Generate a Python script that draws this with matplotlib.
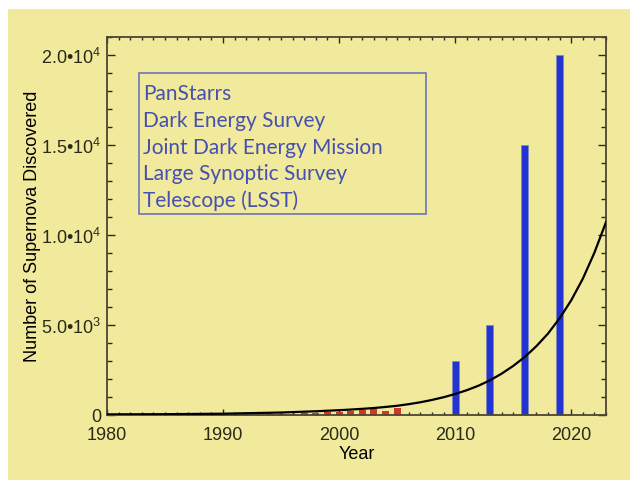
import numpy as np
import matplotlib
matplotlib.use('Agg')
import matplotlib.pyplot as plt
from matplotlib.patches import Rectangle
from matplotlib.ticker import MultipleLocator, FuncFormatter

plt.rcParams['font.family'] = ['Liberation Sans', 'DejaVu Sans']
plt.rcParams['mathtext.fontset'] = 'custom'
plt.rcParams['mathtext.rm'] = 'Liberation Sans'

# data
past_years = [1994, 1995, 1996, 1997, 1998, 1999, 2000, 2001, 2002, 2003, 2004, 2005]
past_counts = [20, 40, 50, 70, 90, 130, 160, 210, 260, 300, 210, 360]

future_years = [2010, 2013, 2016, 2019]
future_counts = [3000, 5000, 15000, 20000]

trend_years = [1980, 1985, 1990, 1995, 1998, 2000, 2001, 2002, 2003, 2004, 2005, 2006,
               2007, 2008, 2009, 2010, 2011, 2012, 2013, 2014, 2015, 2016, 2017, 2018,
               2019, 2020, 2021, 2022, 2023]
trend_counts = [7, 18, 45, 110, 180, 240, 275, 315, 360, 420, 485, 575,
                680, 810, 960, 1140, 1350, 1600, 1900, 2270, 2700, 3200, 3800, 4500,
                5350, 6350, 7550, 9000, 10700]

surveys = ['PanStarrs', 'Dark Energy Survey', 'Joint Dark Energy Mission',
           'Large Synoptic Survey', 'Telescope (LSST)']

yellow = '#F1E99B'
W, H = 630, 481

fig = plt.figure(figsize=(6.3, 4.81), dpi=100, facecolor='white')
# yellow backdrop panel
fig.patches.append(Rectangle((8 / W, 0), 1 - 8 / W, 1 - 10 / H, transform=fig.transFigure,
                             facecolor=yellow, edgecolor='none', zorder=-5))

ax = fig.add_axes([107 / W, 65.5 / H, (606 - 107) / W, (443 - 65.5) / H])
ax.set_facecolor(yellow)

ax.bar(past_years, past_counts, width=0.6, color='#D2352A', zorder=2)
ax.bar(future_years, future_counts, width=0.6, color='#2333D0', edgecolor='#7F86C8',
       linewidth=0.5, zorder=2)
ax.plot(trend_years, trend_counts, color='black', lw=1.6, zorder=3)

ax.set_xlim(1980, 2023)
ax.set_ylim(0, 21000)

ax.xaxis.set_major_locator(MultipleLocator(10))
ax.xaxis.set_minor_locator(MultipleLocator(1))
ax.yaxis.set_major_locator(MultipleLocator(5000))
ax.yaxis.set_minor_locator(MultipleLocator(1000))


def sci(v, pos):
    if v <= 0:
        return '0'
    e = int(np.floor(np.log10(v)))
    return '%.1f\u2022' % (v / 10 ** e) + '10$^{%d}$' % e


ax.yaxis.set_major_formatter(FuncFormatter(sci))

ax.tick_params(which='both', direction='in', top=True, right=True, colors='#2a2a1a',
               labelsize=13, width=1)
ax.tick_params(axis='x', which='major', length=4.5, pad=8)
ax.tick_params(axis='x', which='minor', length=2.2)
ax.tick_params(axis='y', which='major', length=6, pad=4)
ax.tick_params(axis='y', which='minor', length=3.5)
for s in ax.spines.values():
    s.set_color('#4a4632')
    s.set_linewidth(1.3)

ax.set_xlabel('Year', fontsize=13, labelpad=2)
ax.set_ylabel('Number of Supernova Discovered', fontsize=13, labelpad=0)

# survey list box
box = Rectangle((139 / W, (H - 215) / H), (426 - 139) / W, (215 - 74) / H,
                transform=fig.transFigure, facecolor='none', edgecolor='#6D74BC',
                linewidth=1.2, zorder=4)
fig.patches.append(box)
for i, name in enumerate(surveys):
    fig.text(143 / W, (H - 94.5 - i * 26.6) / H, name, family='Lato', fontsize=15,
             color='#4650B2', va='center', ha='left')

fig.savefig('out.png', dpi=100, facecolor='white')
